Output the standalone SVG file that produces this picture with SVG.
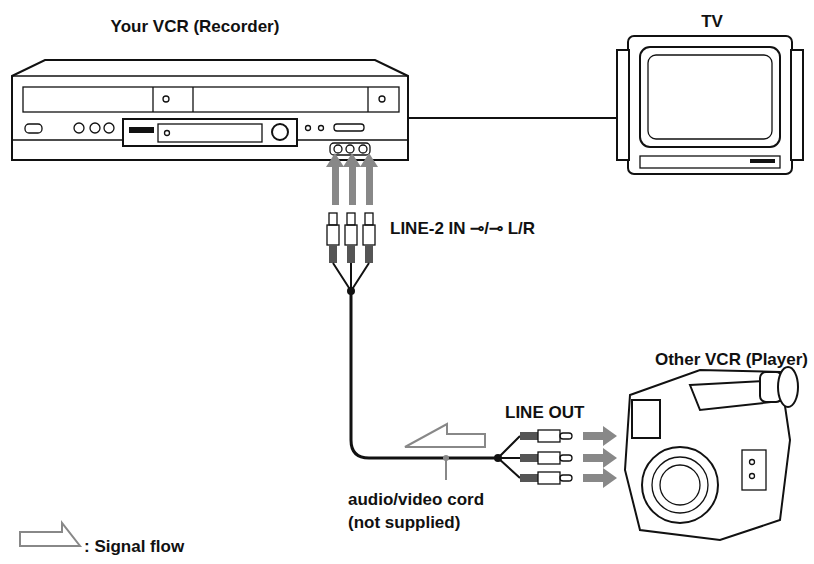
<svg xmlns="http://www.w3.org/2000/svg" width="814" height="564" viewBox="0 0 814 564">
<style>
.t{font-family:"Liberation Sans",Arial,sans-serif;font-weight:bold;font-size:17px;fill:#111}
.o{fill:#fff;stroke:#111;stroke-width:2}
.th{fill:none;stroke:#111;stroke-width:1.3}
.ga{fill:#888}
.cab{fill:none;stroke:#111;stroke-width:3}
</style>
<defs>
<g id="plugV">
<rect x="-4" y="0" width="8" height="12" class="th" fill="#fff"/>
<rect x="-6" y="12" width="12" height="20" class="th" fill="#fff"/>
<rect x="-4" y="32" width="8" height="18" fill="#555"/>
</g>
<g id="plugH">
<rect x="0" y="-4" width="18" height="8" fill="#555"/>
<rect x="18" y="-6" width="22" height="12" class="th" fill="#fff"/>
<rect x="40" y="-3" width="12" height="6" rx="3" class="th" fill="#fff"/>
</g>
</defs>
<rect width="814" height="564" fill="#fff"/>
<g id="vcr">
<path d="M12 76 L45 60 L375 60 L408 76 L408 160 L12 160 Z" class="o"/>
<line x1="12" y1="76" x2="408" y2="76" class="th"/>
<rect x="23" y="87" width="376" height="25" class="th"/>
<line x1="153" y1="87" x2="153" y2="112" class="th"/><line x1="193" y1="87" x2="193" y2="112" class="th"/>
<line x1="368" y1="87" x2="368" y2="112" class="th"/>
<circle cx="166" cy="99" r="3" class="th"/><circle cx="382" cy="99" r="3" class="th"/>
<line x1="12" y1="140" x2="408" y2="140" class="th"/>
<rect x="25" y="124" width="17" height="9" rx="4" class="th"/>
<circle cx="79" cy="128" r="5" class="th"/><circle cx="95" cy="128" r="5" class="th"/><circle cx="109" cy="128" r="5" class="th"/>
<rect x="123" y="119" width="174" height="27" class="o"/>
<rect x="129" y="127" width="25" height="6" fill="#111"/>
<rect x="158" y="124" width="104" height="18" class="th"/>
<circle cx="167" cy="133" r="2.5" class="th"/>
<circle cx="280" cy="132" r="8" class="o" stroke-width="3"/>
<circle cx="308" cy="128" r="2.5" class="th"/><circle cx="321" cy="128" r="2.5" class="th"/>
<rect x="334" y="124" width="30" height="7" rx="3" class="th"/>
<rect x="330" y="143" width="40" height="12" rx="4" class="th" fill="#fff"/>
<circle cx="338" cy="149" r="4" class="th"/><circle cx="350" cy="149" r="4" class="th"/><circle cx="363" cy="149" r="4" class="th"/>
<line x1="408" y1="118" x2="618" y2="118" stroke="#111" stroke-width="2"/>
</g>
<g id="tv">
<rect x="628" y="36" width="164" height="138" rx="6" class="o"/>
<rect x="617" y="50" width="12" height="110" class="o"/>
<rect x="791" y="50" width="12" height="110" class="o"/>
<rect x="640" y="47" width="140" height="100" rx="10" class="o"/>
<rect x="648" y="55" width="124" height="84" rx="8" class="th"/>
<rect x="640" y="156" width="140" height="12" class="th"/>
<rect x="750" y="159" width="25" height="4" fill="#111"/>
</g>
<g id="camera">
<path d="M630 395 L700 370 L780 372 L790 440 L780 520 L720 540 L640 530 L625 470 Z" class="o"/>
<path d="M690 385 L780 380 L790 400 L700 410 Z" class="o"/>
<rect x="760" y="372" width="22" height="30" rx="6" class="o"/>
<ellipse cx="788" cy="387" rx="10" ry="20" class="o"/>
<rect x="632" y="400" width="28" height="38" class="o"/>
<circle cx="680" cy="485" r="38" class="o"/>
<circle cx="680" cy="485" r="28" class="th"/>
<circle cx="680" cy="485" r="20" class="th"/>
<rect x="742" y="450" width="24" height="40" class="th"/>
<circle cx="752" cy="462" r="2.5" class="th"/><circle cx="752" cy="476" r="2.5" class="th"/>
</g>
<g id="connectors">
<rect x="332" y="167" width="7" height="38" class="ga"/><polygon points="326,167 335,153 344,167" class="ga"/>
<rect x="349" y="167" width="7" height="38" class="ga"/><polygon points="343,167 352,153 361,167" class="ga"/>
<rect x="366" y="167" width="7" height="38" class="ga"/><polygon points="360,167 369,153 378,167" class="ga"/>
<use href="#plugV" x="333" y="213"/><use href="#plugV" x="351" y="213"/><use href="#plugV" x="369" y="213"/>
<path d="M333 263 L351 291 L369 263 M351 263 V291" fill="none" stroke="#111" stroke-width="2"/>
<circle cx="351" cy="291" r="4" fill="#111"/>
<path d="M351 291 V440 Q351 458 369 458 H498" class="cab"/>
<path d="M498 458 L520 436 M498 458 H520 M498 458 L520 478" fill="none" stroke="#111" stroke-width="2"/>
<circle cx="498" cy="458" r="4" fill="#111"/>
<circle cx="446" cy="458" r="3" fill="#888"/>
<line x1="446" y1="458" x2="446" y2="480" stroke="#888" stroke-width="2"/>
<use href="#plugH" x="520" y="436"/><use href="#plugH" x="520" y="458"/><use href="#plugH" x="520" y="478"/>
<g class="ga">
<rect x="583" y="432" width="20" height="8"/><polygon points="603,426 617,436 603,446"/>
<rect x="583" y="454" width="20" height="8"/><polygon points="603,448 617,458 603,468"/>
<rect x="583" y="474" width="20" height="8"/><polygon points="603,468 617,478 603,488"/>
</g>
<polygon points="405,447 447,424 447,434 485,434 485,447" fill="#fff" stroke="#888" stroke-width="2"/>
</g>
<polygon points="20,532 62,532 62,523 80,546 20,546" fill="#fff" stroke="#888" stroke-width="2"/>
<text class="t" x="195" y="32" text-anchor="middle">Your VCR (Recorder)</text>
<text class="t" x="712" y="27" text-anchor="middle">TV</text>
<text class="t" x="390" y="234">LINE-2 IN ⊸/⊸ L/R</text>
<text class="t" x="808" y="365" text-anchor="end">Other VCR (Player)</text>
<text class="t" x="505" y="418">LINE OUT</text>
<text class="t" x="348" y="505">audio/video cord</text>
<text class="t" x="348" y="528">(not supplied)</text>
<text class="t" x="84" y="552">: Signal flow</text>
</svg>
